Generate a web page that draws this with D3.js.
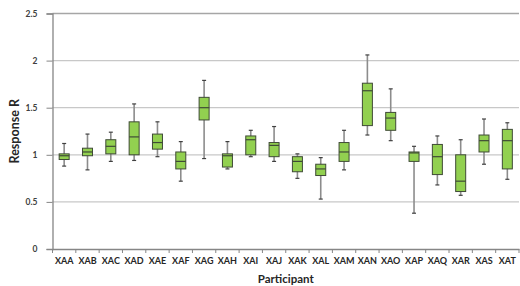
<!DOCTYPE html>
<html><head><meta charset="utf-8">
<script src="https://cdn.jsdelivr.net/npm/d3@7"></script>
<style>body{margin:0;background:#fff}svg{display:block}</style>
</head><body>
<svg id="c" width="520" height="286"></svg>
<script>
const categories = ["XAA","XAB","XAC","XAD","XAE","XAF","XAG","XAH","XAI","XAJ","XAK","XAL","XAM","XAN","XAO","XAP","XAQ","XAR","XAS","XAT"];
const whiskerMin = [0.88,0.84,0.93,0.94,0.98,0.72,0.96,0.85,0.98,0.93,0.75,0.53,0.84,1.21,1.15,0.38,0.68,0.57,0.90,0.74];
const q1         = [0.95,0.99,1.01,1.00,1.06,0.85,1.37,0.87,1.00,0.98,0.82,0.78,0.93,1.31,1.26,0.93,0.79,0.61,1.03,0.85];
const median     = [0.99,1.03,1.09,1.19,1.13,0.93,1.50,0.99,1.16,1.10,0.93,0.85,1.03,1.68,1.39,1.02,0.98,0.72,1.15,1.15];
const q3         = [1.01,1.07,1.16,1.35,1.22,1.03,1.61,1.01,1.20,1.13,0.98,0.90,1.13,1.76,1.45,1.03,1.11,1.00,1.21,1.27];
const whiskerMax = [1.12,1.22,1.24,1.54,1.35,1.14,1.79,1.14,1.26,1.30,1.01,0.97,1.26,2.06,1.70,1.09,1.20,1.16,1.38,1.34];
const yTicks = [0,0.5,1,1.5,2,2.5];

const svg = d3.select("#c");
const m = {l:52.5, r:519, t:13.5, b:249};
const x = d3.scaleBand().domain(categories).range([m.l, m.r]);
const y = d3.scaleLinear().domain([0,2.5]).range([m.b, m.t]);
const font = "Lato, 'Liberation Sans', sans-serif";

// grid
svg.append("g").selectAll("line").data(yTicks.filter(d=>d>0)).join("line")
  .attr("x1", m.l).attr("x2", m.r).attr("y1", d=>y(d)).attr("y2", d=>y(d))
  .attr("stroke", d=> d===2.5 ? "#a6a6a6" : "#c8c8c8").attr("stroke-width", d=> d===2.5 ? 1.5 : 1.2);

// y axis
const ya = svg.append("g").attr("transform", `translate(${m.l},0)`)
  .call(d3.axisLeft(y).tickValues(yTicks).tickFormat(d=>d).tickSize(6).tickPadding(9));
ya.select(".domain").attr("stroke", "#868686").attr("stroke-width", 1.3);
ya.selectAll(".tick line").attr("stroke", "#868686");
ya.selectAll("text").attr("font-family", font).attr("font-weight", "bold").attr("font-size", 8.5).attr("fill", "#404040");

// x axis
const xa = svg.append("g").attr("transform", `translate(0,${m.b})`)
  .call(d3.axisBottom(x).tickSize(0).tickPadding(9));
xa.select(".domain").attr("stroke", "#868686").attr("stroke-width", 1.3);
xa.selectAll("text").attr("font-family", font).attr("font-weight", "bold").attr("font-size", 9).attr("fill", "#262626");
// x boundary ticks
const bounds = categories.map(c=>x(c)).concat([m.r]);
xa.append("g").selectAll("line").data(bounds).join("line")
  .attr("x1", d=>d).attr("x2", d=>d).attr("y1", 0).attr("y2", 4).attr("stroke", "#868686");

// boxes
const bw = 10, cap = 4;
const g = svg.append("g").selectAll("g").data(categories).join("g")
  .attr("transform", c=>`translate(${x(c)+x.bandwidth()/2},0)`);
g.append("line").attr("x1",0).attr("x2",0)
  .attr("y1",(c,i)=>y(whiskerMax[i])).attr("y2",(c,i)=>y(whiskerMin[i]))
  .attr("stroke","#8c8c8c").attr("stroke-width",1.6);
g.append("line").attr("x1",-cap/2).attr("x2",cap/2)
  .attr("y1",(c,i)=>y(whiskerMax[i])).attr("y2",(c,i)=>y(whiskerMax[i]))
  .attr("stroke","#404040").attr("stroke-width",1.2);
g.append("line").attr("x1",-cap/2).attr("x2",cap/2)
  .attr("y1",(c,i)=>y(whiskerMin[i])).attr("y2",(c,i)=>y(whiskerMin[i]))
  .attr("stroke","#404040").attr("stroke-width",1.2);
g.append("rect").attr("x",-bw/2).attr("width",bw)
  .attr("y",(c,i)=>y(q3[i])).attr("height",(c,i)=>y(q1[i])-y(q3[i]))
  .attr("fill","#92d050").attr("stroke","#3f4a36").attr("stroke-width",1);
g.append("line").attr("x1",-bw/2).attr("x2",bw/2)
  .attr("y1",(c,i)=>y(median[i])).attr("y2",(c,i)=>y(median[i]))
  .attr("stroke","#3f4a36").attr("stroke-width",1.2);

// titles
svg.append("text").attr("transform",`translate(19,${(m.t+m.b)/2}) rotate(-90)`)
  .attr("text-anchor","middle").attr("font-family",font).attr("font-weight","bold")
  .attr("font-size",12.5).attr("fill","#262626").text("Response R");
svg.append("text").attr("x",(m.l+m.r)/2).attr("y",283)
  .attr("text-anchor","middle").attr("font-family",font).attr("font-weight","bold")
  .attr("font-size",11.5).attr("fill","#262626").text("Participant");
</script>
</body></html>
